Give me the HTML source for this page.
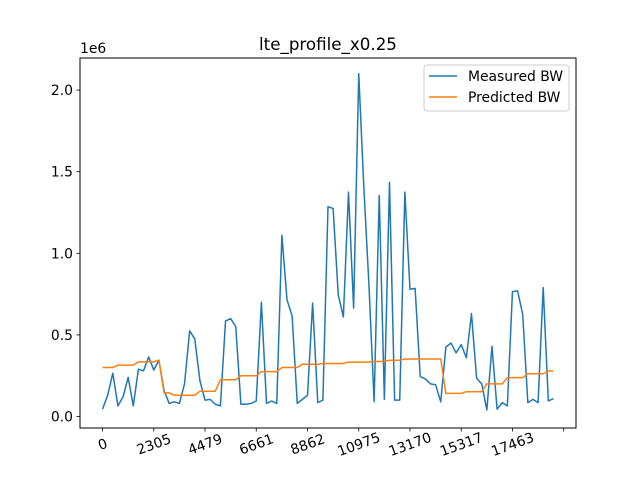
<!DOCTYPE html>
<html><head><meta charset="utf-8"><style>
body{margin:0;background:#fff;}
svg{display:block;font-family:"DejaVu Sans","Liberation Sans",sans-serif;}
</style></head><body>
<svg id="chart" width="640" height="480" viewBox="0 0 640 480">
<rect x="0" y="0" width="640" height="480" fill="#fff"/>
<text x="328" y="50" text-anchor="middle" font-size="16.7">lte_profile_x0.25</text>
<text x="80" y="53" font-size="13.9">1e6</text>
<g id="marks"></g>
<rect x="80" y="58" width="496" height="370" fill="none" stroke="#000" stroke-width="1"/>
<g>
<rect x="424" y="65" width="145" height="46" rx="3" fill="#fff" fill-opacity="0.8" stroke="#ccc"/>
<line x1="429" y1="76" x2="457" y2="76" stroke="#1f77b4" stroke-width="1.5"/>
<text x="468" y="81" font-size="13.9">Measured BW</text>
<line x1="429" y1="97" x2="457" y2="97" stroke="#ff7f0e" stroke-width="1.5"/>
<text x="468" y="102" font-size="13.9">Predicted BW</text>
</g>
</svg>
<script>
const measured=[0.045,0.13,0.265,0.065,0.12,0.24,0.065,0.29,0.28,0.365,0.285,0.345,0.16,0.08,0.09,0.08,0.2,0.525,0.475,0.22,0.1,0.105,0.075,0.065,0.585,0.6,0.55,0.075,0.075,0.08,0.095,0.7,0.08,0.095,0.08,1.11,0.715,0.615,0.08,0.105,0.13,0.695,0.085,0.1,1.285,1.275,0.745,0.61,1.375,0.665,2.1,1.4,0.8,0.09,1.355,0.105,1.435,0.1,0.1,1.375,0.78,0.785,0.245,0.23,0.2,0.195,0.09,0.425,0.45,0.39,0.44,0.36,0.63,0.235,0.2,0.04,0.43,0.045,0.085,0.065,0.765,0.77,0.625,0.085,0.105,0.085,0.79,0.095,0.11];
const predicted=[0.3,0.3,0.3,0.315,0.315,0.315,0.315,0.335,0.335,0.335,0.335,0.345,0.145,0.145,0.13,0.13,0.13,0.13,0.13,0.155,0.155,0.155,0.155,0.225,0.225,0.225,0.225,0.25,0.25,0.25,0.25,0.275,0.275,0.275,0.275,0.3,0.3,0.3,0.3,0.32,0.32,0.32,0.32,0.325,0.325,0.325,0.325,0.325,0.333,0.333,0.333,0.333,0.333,0.337,0.337,0.337,0.345,0.345,0.345,0.352,0.352,0.352,0.352,0.352,0.352,0.352,0.352,0.142,0.142,0.142,0.142,0.152,0.152,0.152,0.152,0.2,0.2,0.2,0.2,0.238,0.238,0.238,0.238,0.262,0.262,0.262,0.262,0.279,0.279];
const xTickIdx=[0,10,20,30,40,50,60,70,80,90];
const xTickLabels=["0","2305","4479","6661","8862","10975","13170","15317","17463",""];
const yTicks=[0,0.5,1.0,1.5,2.0];
const yTickLabels=["0.0","0.5","1.0","1.5","2.0"];

const NS="http://www.w3.org/2000/svg";
const g=document.getElementById('marks');
const n=measured.length;
const xMin=-0.05*(n-1), xMax=(n-1)*1.05;
function xs(i){return 80+(i-xMin)/(xMax-xMin)*496;}
function ys(v){return 416.5-v*163.2;}
function mk(tag,attrs){const e=document.createElementNS(NS,tag);for(const k in attrs)e.setAttribute(k,attrs[k]);g.appendChild(e);return e;}
function line(data,color,name){
  const p=mk('polyline',{points:data.map((v,i)=>xs(i).toFixed(2)+','+ys(v).toFixed(2)).join(' '),fill:'none',stroke:color,'stroke-width':1.5,'stroke-linejoin':'round'});
  
  
}
line(measured,'#1f77b4','measured-bw-line');
line(predicted,'#ff7f0e','predicted-bw-line');
xTickIdx.forEach((t,k)=>{
  const x=xs(t);
  const tk=mk('line',{x1:x,y1:428,x2:x,y2:431.5,stroke:'#000','stroke-width':0.8});
  
  
  if(xTickLabels[k]){
    const tx=mk('text',{x:x,y:449,'font-size':13.9,'text-anchor':'middle',transform:'rotate(-20 '+x+' 444)'});
    tx.textContent=xTickLabels[k];
    
    
  }
});
yTicks.forEach((v,k)=>{
  const y=ys(v);
  const tk=mk('line',{x1:76.5,y1:y,x2:80,y2:y,stroke:'#000','stroke-width':0.8});
  
  
  const tx=mk('text',{x:73,y:y+5,'font-size':13.9,'text-anchor':'end'});
  tx.textContent=yTickLabels[k];
  
  
});
</script>
</body></html>
